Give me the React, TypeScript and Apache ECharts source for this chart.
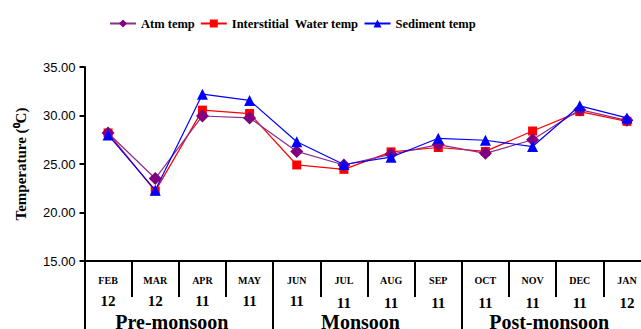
import React, { useEffect, useRef } from "react";
import * as echarts from "echarts";

const months = ["FEB", "MAR", "APR", "MAY", "JUN", "JUL", "AUG", "SEP", "OCT", "NOV", "DEC", "JAN"];
const years = ["12", "12", "11", "11", "11", "11", "11", "11", "11", "11", "11", "12"];
const seasons = ["Pre-monsoon", "Monsoon", "Post-monsoon"];
const atmTemp = [28.2, 23.5, 29.95, 29.75, 26.3, 24.9, 26.0, 27.0, 26.1, 27.5, 30.6, 29.5];
const waterTemp = [28.2, 22.2, 30.55, 30.2, 24.9, 24.45, 26.25, 26.7, 26.3, 28.4, 30.4, 29.4];
const sedimentTemp = [28.0, 22.3, 32.2, 31.55, 27.3, 24.95, 25.7, 27.65, 27.45, 26.8, 31.0, 29.75];
const yTicks = { min: 15, max: 35, interval: 5 };

const serif = "'Liberation Serif', 'Times New Roman', serif";
const sans = "'Liberation Sans', Arial, sans-serif";

export default function App() {
  const ref = useRef<HTMLDivElement>(null);
  useEffect(() => {
    if (!ref.current) return;
    const chart = echarts.init(ref.current, null, { renderer: "svg" });
    const lineW = 2;
    const yearStyle = { fontFamily: serif, fontWeight: "bold", fontSize: 15, color: "#000" };
    chart.setOption({
      animation: false,
      legend: {
        left: 104,
        top: 12,
        itemWidth: 26,
        itemHeight: 10,
        itemGap: 5,
        textStyle: { fontFamily: serif, fontWeight: "bold", fontSize: 12.5, color: "#000" },
        data: [
          { name: "Atm temp" },
          { name: "Interstitial  Water temp" },
          { name: "Sediment temp" },
        ],
      },
      grid: { left: 84.5, top: 67, width: 566, height: 194, outerBoundsMode: "none", containLabel: false },
      xAxis: [
        {
          type: "category",
          data: months,
          position: "bottom",
          axisLine: { lineStyle: { color: "#000", width: lineW } },
          axisTick: { show: true, interval: 0, length: 36, lineStyle: { color: "#000", width: lineW } },
          axisLabel: {
            interval: 0,
            margin: 8,
            formatter: (v: string, i: number) => `{m|${v}}\n{${i < 5 ? "ya" : "yb"}|${years[i]}}`,
            rich: {
              m: { fontFamily: serif, fontWeight: "bold", fontSize: 10, lineHeight: 22, color: "#000" },
              ya: { ...yearStyle, lineHeight: 20 },
              yb: { ...yearStyle, lineHeight: 18, padding: [5, 0, 0, 0] },
            },
          },
        },
        {
          type: "category",
          data: seasons,
          position: "bottom",
          axisLine: { show: false },
          axisTick: { show: true, interval: 0, length: 68, lineStyle: { color: "#000", width: lineW } },
          axisLabel: {
            interval: 0,
            margin: 54,
            fontFamily: serif,
            fontWeight: "bold",
            fontSize: 20,
            lineHeight: 14,
            padding: [0, 14, 0, 0],
            color: "#000",
          },
        },
      ],
      yAxis: {
        type: "value",
        min: yTicks.min,
        max: yTicks.max,
        interval: yTicks.interval,
        name: "Temperature (⁰C)",
        nameLocation: "middle",
        nameGap: 56,
        nameTextStyle: { fontFamily: serif, fontWeight: "bold", fontSize: 15, color: "#000" },
        axisLine: { show: true, lineStyle: { color: "#000", width: lineW } },
        axisTick: { show: true, length: 5, lineStyle: { color: "#000", width: lineW } },
        splitLine: { show: false },
        axisLabel: {
          formatter: (v: number) => v.toFixed(2),
          fontFamily: sans,
          fontSize: 13,
          color: "#000",
          margin: 9,
        },
      },
      series: [
        {
          name: "Atm temp",
          type: "line",
          data: atmTemp,
          symbol: "diamond",
          symbolSize: 13,
          itemStyle: { color: "#800080" },
          lineStyle: { color: "#8B2F8B", width: 1.2 },
          z: 3,
        },
        {
          name: "Interstitial  Water temp",
          type: "line",
          data: waterTemp,
          symbol: "rect",
          symbolSize: 9,
          itemStyle: { color: "#FF0000" },
          lineStyle: { color: "#FF0000", width: 1.2 },
          z: 2,
        },
        {
          name: "Sediment temp",
          type: "line",
          data: sedimentTemp,
          symbol: "triangle",
          symbolSize: 11,
          itemStyle: { color: "#0000FF" },
          lineStyle: { color: "#0000FF", width: 1.2 },
          z: 4,
        },
      ],
    });
    return () => chart.dispose();
  }, []);
  return <div ref={ref} style={{ width: 641, height: 329, position: "absolute", left: 0, top: 0 }} />;
}
